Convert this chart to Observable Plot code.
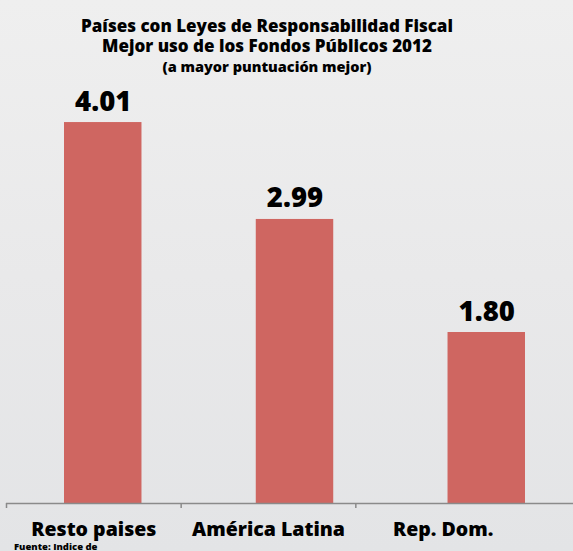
<!DOCTYPE html>
<html>
<head>
<meta charset="utf-8">
<script src="https://cdn.jsdelivr.net/npm/d3@7"></script>
<script src="https://cdn.jsdelivr.net/npm/@observablehq/plot@0.6"></script>
<style>
  html, body { margin: 0; padding: 0; }
  body {
    width: 573px; height: 551px; overflow: hidden; position: relative;
    background: linear-gradient(180deg, #efefef 0%, #e9e9ea 50%, #e3e4e6 100%);
    font-family: "Open Sans", Lato, sans-serif;
  }
  #title {
    position: absolute; left: 0; top: 16px; width: 534px;
    text-align: center; color: #000; font-weight: 800;
    font-size: 17px; line-height: 20px;
  }
  #title .l3 { font-size: 14.5px; line-height: 19px; margin-top: 1px; }
  #bars { position: absolute; left: 0; top: 80px; }
  #axis { position: absolute; left: 0; top: 503px; }
  #foot { position: absolute; left: 14px; top: 542px; font-size: 9.5px; line-height: 9px; font-weight: 800; color: #000; }
  svg { background: transparent !important; overflow: visible; }
</style>
</head>
<body>
<div id="title">
  <div class="l1">Países con Leyes de Responsabilidad Fiscal</div>
  <div class="l2">Mejor uso de los Fondos Públicos 2012</div>
  <div class="l3">(a mayor puntuación mejor)</div>
</div>
<div id="bars"></div>
<div id="axis"></div>
<div id="foot">Fuente: Indice de</div>
<script>
const categories = ["Resto paises", "América Latina", "Rep. Dom."];
const values = [4.01, 2.99, 1.80];
const valueLabels = ["4.01", "2.99", "1.80"];

const data = categories.map((c, i) => ({cat: c, value: values[i], label: valueLabels[i]}));

const barColor = "#cf6661";
const font = "'Open Sans', Lato, sans-serif";

const bars = Plot.plot({
  width: 573,
  height: 423,
  marginTop: 0, marginBottom: 0, marginLeft: 0, marginRight: 0,
  style: {background: "transparent", overflow: "visible"},
  x: {domain: categories, range: [64, 525], paddingInner: 0.596, paddingOuter: 0, round: false, axis: null},
  y: {domain: [0, 423 / 95], axis: null},
  marks: [
    Plot.barY(data, {x: "cat", y: "value", fill: barColor}),
    Plot.text(data, {
      x: "cat", y: "value", text: "label",
      lineAnchor: "bottom", dy: -12,
      fontSize: 27.5, fontWeight: 800, fill: "#000",
      fontFamily: font
    })
  ]
});
document.getElementById("bars").appendChild(bars);

const axis = Plot.plot({
  width: 573,
  height: 48,
  marginTop: 0, marginBottom: 48, marginLeft: 6, marginRight: 0,
  style: {background: "transparent", overflow: "visible"},
  x: {domain: [0, categories.length], range: [6, 530]},
  y: {domain: [0, 1], axis: null},
  marks: [
    Plot.ruleY([0], {stroke: "#8a8a8a", strokeWidth: 1.5}),
    Plot.axisX({
      anchor: "bottom",
      ticks: d3.range(categories.length),
      tickSize: 5, tickFormat: () => "",
      stroke: "#8a8a8a", strokeWidth: 1.5, strokeOpacity: 1
    }),
    Plot.axisX({
      anchor: "bottom",
      ticks: categories.map((c, i) => i + 0.5),
      tickSize: 0, tickPadding: 19,
      tickFormat: (t) => categories[Math.floor(t)],
      fontSize: 19.5, fontWeight: 800, fill: "#000",
      fontFamily: font
    })
  ]
});
document.getElementById("axis").appendChild(axis);
</script>
</body>
</html>
